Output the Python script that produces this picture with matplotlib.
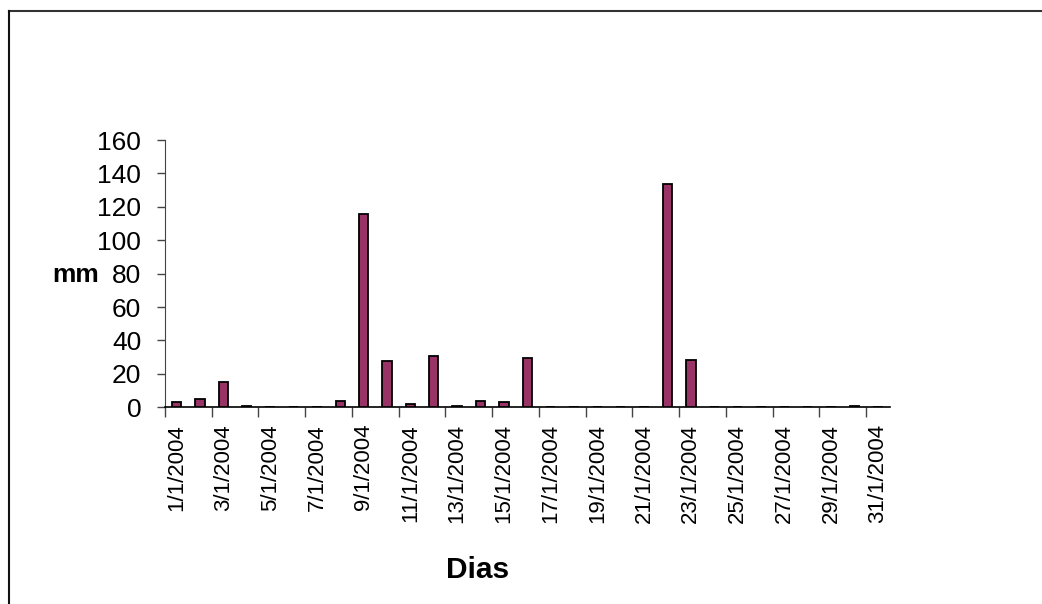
import matplotlib
matplotlib.use("Agg")
import matplotlib.pyplot as plt
from matplotlib.lines import Line2D
import numpy as np

plt.rcParams['font.family'] = ['Liberation Sans', 'DejaVu Sans']

# daily rainfall, January 2004
days = list(range(1, 32))
rain_mm = [3, 5, 15, 1, 0, 0, 0, 4, 115.5, 27.5,
           2, 30.5, 1, 4, 3, 29.5, 0, 0, 0, 0,
           0, 133.5, 28.5, 0, 0, 0, 0, 0, 0, 1,
           0]
day_labels = ["%d/1/2004" % d for d in days]
y_ticks = [0, 20, 40, 60, 80, 100, 120, 140, 160]

fig = plt.figure(figsize=(10.42, 6.04), dpi=100)
ax = fig.add_axes([0.1583, 0.3257, 0.6954, 0.4425])

x = np.arange(len(days))
ax.bar(x, rain_mm, width=0.4, color='#993366', edgecolor='black', linewidth=1.3, zorder=3)

ax.set_xlim(-0.5, len(days) - 0.5)
ax.set_ylim(0, 160)
ax.set_yticks(y_ticks)
ax.tick_params(axis='y', direction='out', length=6, width=1, labelsize=19, pad=11, color='#444444')

# tick marks between categories, labels on every second day
ax.set_xticks(np.arange(-0.5, len(days) - 0.5, 2))
ax.set_xticklabels([])
ax.set_xticks(x[::2], minor=True)
ax.set_xticklabels(day_labels[::2], minor=True, rotation=90, fontsize=16)
ax.tick_params(axis='x', which='major', direction='out', length=7, width=1, color='#444444')
ax.tick_params(axis='x', which='minor', length=0, pad=12)

for s in ['top', 'right']:
    ax.spines[s].set_visible(False)
ax.spines['left'].set_color('#444444')
ax.spines['bottom'].set_color('black')
ax.spines['bottom'].set_linewidth(1.2)

fig.text(0.073, 1 - 275 / 604, 'mm', fontsize=19, fontweight='bold', ha='center', va='center')
fig.text(0.458, 1 - 570 / 604, 'Dias', fontsize=21.5, fontweight='bold', ha='center', va='center')

# outer chart border
fig.add_artist(Line2D([9 / 1042, 1], [1 - 11 / 604, 1 - 11 / 604], color='#333333', lw=1.5))
fig.add_artist(Line2D([9 / 1042, 9 / 1042], [0, 1 - 11 / 604], color='#111111', lw=1.5))

fig.savefig('out.png', dpi=100)
